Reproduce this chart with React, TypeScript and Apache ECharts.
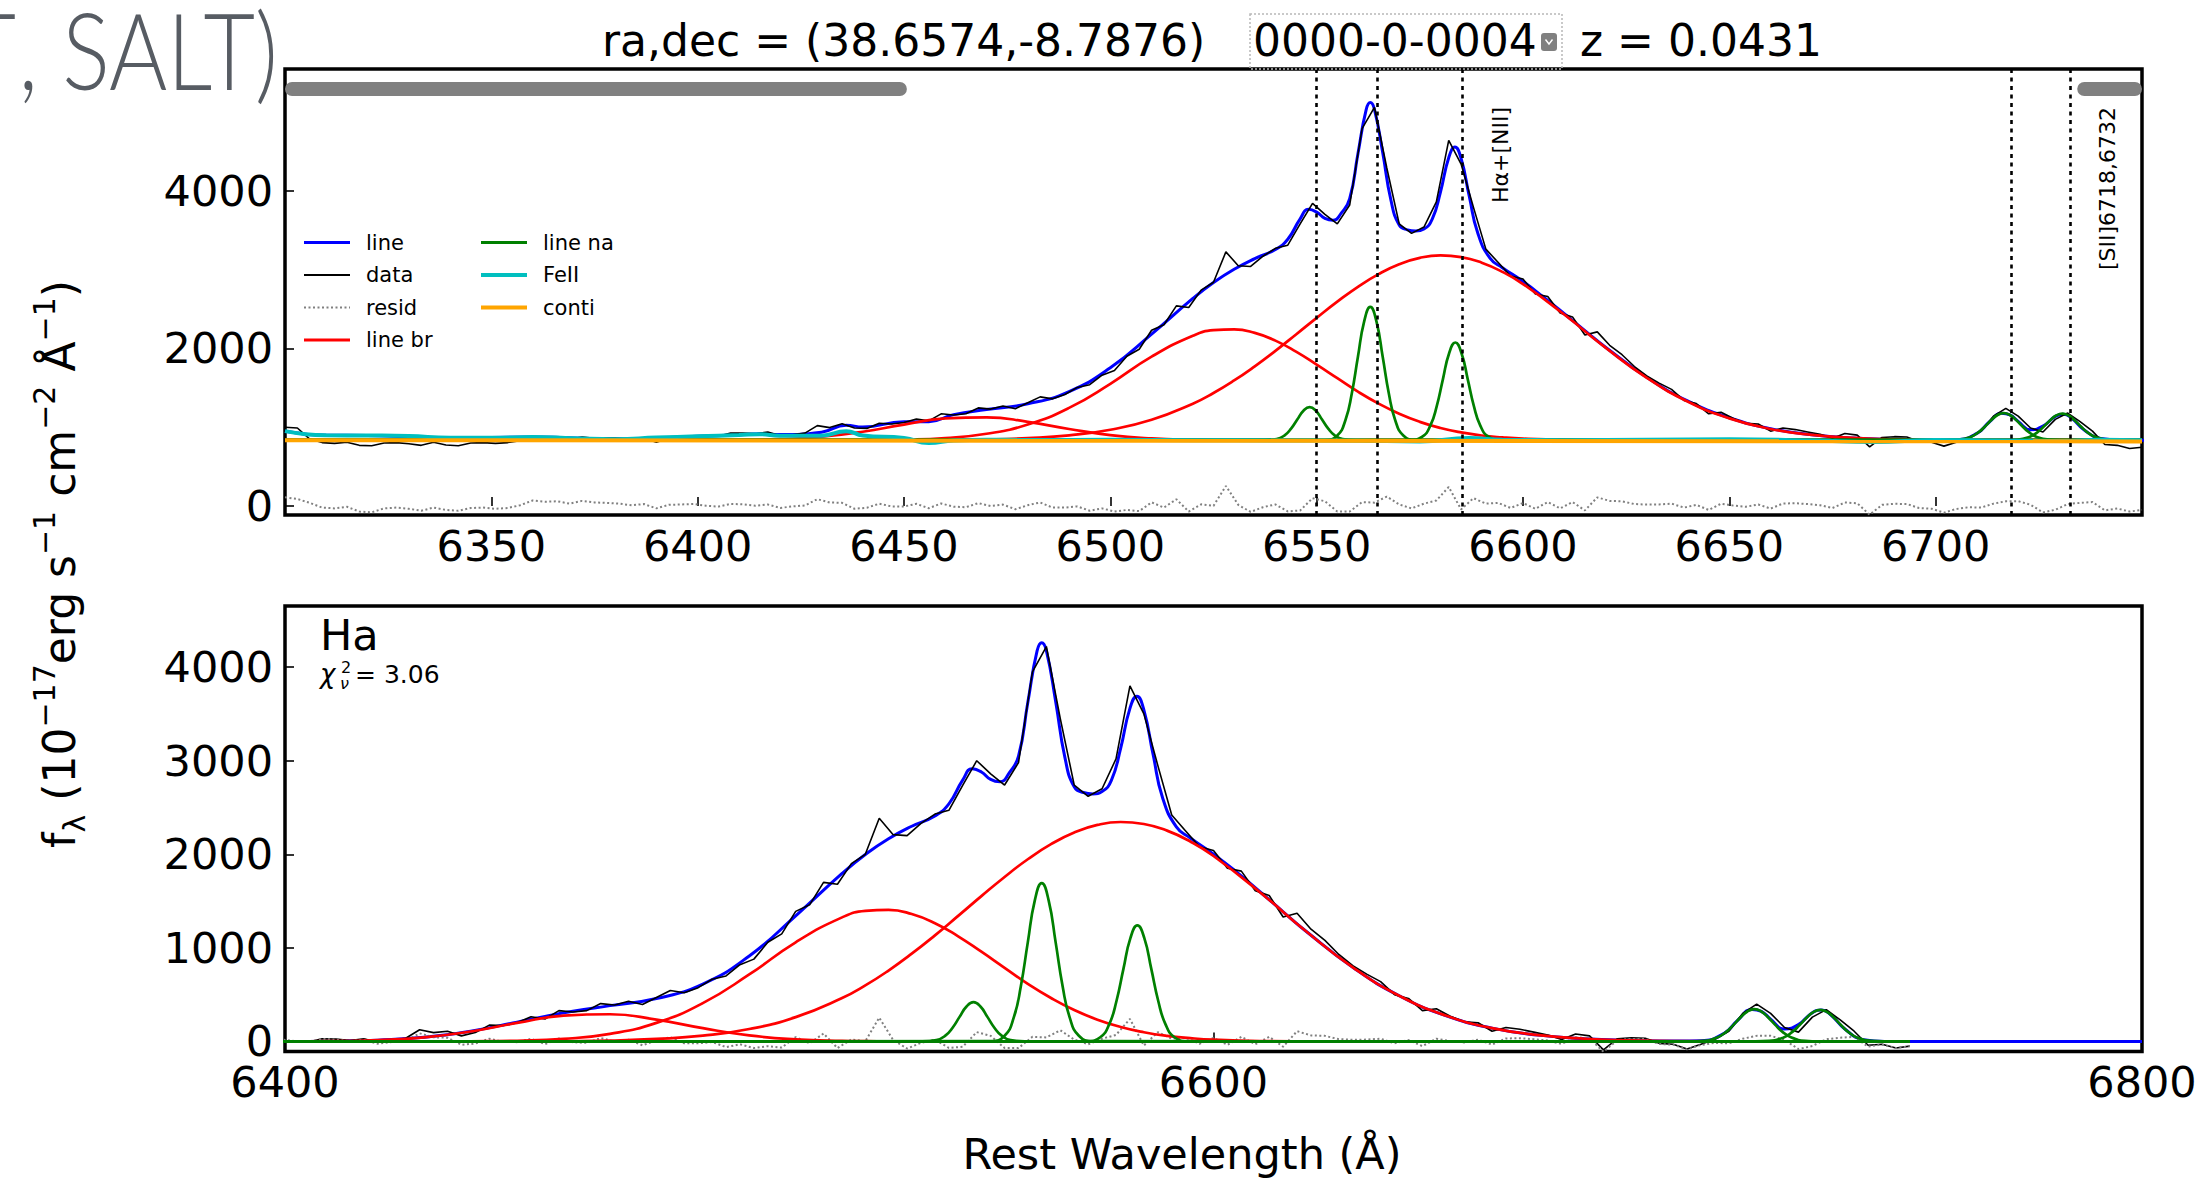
import React, { useEffect, useRef } from "react";
import * as echarts from "echarts";

const FONT = '"DejaVu Sans", "Liberation Sans", sans-serif';
const C = {
  line: "#0000ff",
  data: "#000000",
  resid: "#808080",
  br: "#ff0000",
  na: "#008000",
  fe: "#00bfbf",
  conti: "#ffa500",
  mask: "#808080",
};

// ---------------- axes / ticks ----------------
const topXTicks = [6350, 6400, 6450, 6500, 6550, 6600, 6650, 6700];
const botXTicks = [6400, 6600, 6800];
const topYTicks = [0, 2000, 4000];
const botYTicks = [0, 1000, 2000, 3000, 4000];

// ---------------- total line model ----------------
const lineWave = [6300, 6310, 6320, 6340, 6360, 6380, 6400, 6410, 6415, 6420, 6430, 6436, 6440, 6450, 6456, 6462, 6470, 6480, 6490, 6500, 6510, 6520, 6525, 6530, 6535, 6540, 6543, 6546, 6548, 6550, 6552, 6554, 6556, 6558, 6560, 6562, 6563, 6564, 6566, 6568, 6570, 6572, 6574, 6576, 6578, 6580, 6582, 6583.5, 6585, 6587, 6589, 6592, 6595, 6600, 6605, 6610, 6615, 6620, 6630, 6640, 6650, 6660, 6670, 6680, 6690, 6700, 6705, 6710, 6713, 6716, 6718, 6720, 6723, 6726, 6729, 6731, 6733, 6736, 6740, 6745, 6750, 6800];
const lineTop = [950, 898, 895, 866, 875, 850, 886, 903, 917, 907, 937, 1025, 1003, 1069, 1070, 1160, 1225, 1297, 1453, 1754, 2181, 2634, 2836, 3004, 3140, 3255, 3385, 3645, 3765, 3730, 3650, 3625, 3720, 3900, 4470, 5030, 5120, 5035, 4485, 3880, 3565, 3505, 3490, 3515, 3640, 3985, 4420, 4555, 4410, 3925, 3470, 3145, 3025, 2850, 2650, 2440, 2225, 2015, 1634, 1330, 1120, 982, 905, 862, 845, 840, 843, 922, 1066, 1177, 1156, 1073, 968, 1013, 1138, 1166, 1113, 965, 858, 838, 836, 836];
const lineBot = [0, 0, 0, 0, 0, 0, 0, 3, 7, 14, 44, 80, 109, 207, 268, 323, 383, 459, 614, 914, 1343, 1796, 1998, 2166, 2300, 2410, 2539, 2796, 2914, 2880, 2800, 2775, 2870, 3050, 3622, 4174, 4261, 4177, 3633, 3033, 2720, 2660, 2645, 2670, 2790, 3132, 3559, 3689, 3543, 3063, 2610, 2293, 2174, 2002, 1809, 1600, 1386, 1175, 792, 489, 277, 143, 68, 29, 12, 4, 7, 88, 232, 343, 322, 239, 134, 181, 308, 336, 283, 134, 20, 1, 0, 0];

// ---------------- broad components ----------------
const brWave = [6300, 6400, 6410, 6420, 6430, 6440, 6450, 6460, 6470, 6480, 6490, 6500, 6510, 6520, 6525, 6530, 6535, 6540, 6545, 6550, 6555, 6560, 6565, 6570, 6575, 6580, 6585, 6590, 6595, 6600, 6610, 6620, 6630, 6640, 6650, 6660, 6670, 6680, 6690, 6700, 6720, 6750];
const br1Bot = [0, 1, 3, 14, 44, 107, 198, 276, 291, 233, 142, 65, 23, 6, 3, 1, 0, 0, 0, 0, 0, 0, 0, 0, 0, 0, 0, 0, 0, 0, 0, 0, 0, 0, 0, 0, 0, 0, 0, 0, 0, 0];
const br1Top = [835, 836, 838, 849, 879, 942, 1033, 1111, 1126, 1068, 977, 900, 858, 841, 838, 836, 835, 835, 835, 835, 835, 835, 835, 835, 835, 835, 835, 835, 835, 835, 835, 835, 835, 835, 835, 835, 835, 835, 835, 835, 835, 835];
const br2Bot = [0, 0, 0, 0, 0, 2, 8, 28, 82, 199, 410, 716, 1060, 1326, 1396, 1407, 1362, 1264, 1124, 959, 787, 616, 465, 336, 233, 155, 99, 60, 36, 20, 5, 1, 0, 0, 0, 0, 0, 0, 0, 0, 0, 0];
const br2Top = [835, 835, 835, 835, 835, 837, 843, 863, 917, 1034, 1245, 1551, 1895, 2161, 2231, 2242, 2197, 2099, 1959, 1794, 1622, 1451, 1300, 1171, 1068, 990, 934, 895, 871, 855, 840, 836, 835, 835, 835, 835, 835, 835, 835, 835, 835, 835];
const br3Bot = [0, 0, 0, 0, 0, 0, 1, 4, 10, 27, 62, 133, 260, 464, 599, 758, 938, 1134, 1342, 1553, 1758, 1947, 2108, 2233, 2314, 2345, 2324, 2253, 2137, 1982, 1595, 1175, 792, 489, 277, 143, 68, 29, 12, 4, 0, 0];
const br3Top = [835, 835, 835, 835, 835, 835, 836, 839, 845, 862, 897, 968, 1095, 1299, 1434, 1593, 1773, 1969, 2177, 2388, 2593, 2782, 2943, 3068, 3149, 3180, 3159, 3088, 2972, 2817, 2430, 2010, 1627, 1324, 1112, 978, 903, 864, 847, 839, 835, 835];

// ---------------- narrow components ----------------
const naN2aWave = [6300, 6537.3, 6540.3, 6542.3, 6543.8, 6545.3, 6546.8, 6548.3, 6549.8, 6551.3, 6552.8, 6554.3, 6556.3, 6559.3, 6750];
const naN2aBot = [0, 1, 15, 65, 147, 263, 374, 420, 374, 263, 147, 65, 15, 1, 0];
const naN2aTop = [835, 836, 850, 900, 982, 1098, 1209, 1255, 1209, 1098, 982, 900, 850, 836, 835];
const naHaWave = [6300, 6552, 6555, 6557, 6558.5, 6560, 6561.5, 6563, 6564.5, 6566, 6567.5, 6569, 6571, 6574, 6750];
const naHaBot = [0, 3, 61, 260, 590, 1059, 1505, 1691, 1505, 1059, 590, 260, 61, 3, 0];
const naHaTop = [835, 838, 896, 1095, 1425, 1894, 2340, 2526, 2340, 1894, 1425, 1095, 896, 838, 835];
const naN2bWave = [6300, 6572.6, 6575.6, 6577.6, 6579.1, 6580.6, 6582.1, 6583.6, 6585.1, 6586.6, 6588.1, 6589.6, 6591.6, 6594.6, 6750];
const naN2bBot = [0, 2, 45, 191, 433, 776, 1104, 1240, 1104, 776, 433, 191, 45, 2, 0];
const naN2bTop = [835, 837, 880, 1026, 1268, 1611, 1939, 2075, 1939, 1611, 1268, 1026, 880, 837, 835];
const naS2aWave = [6300, 6702.5, 6705.5, 6708.5, 6710.5, 6712, 6713.5, 6715, 6716.5, 6718, 6719.5, 6721, 6722.5, 6724.5, 6727.5, 6730.5, 6750];
const naS2aBot = [0, 1, 7, 42, 106, 177, 257, 320, 345, 320, 257, 177, 106, 42, 7, 1, 0];
const naS2aTop = [835, 836, 842, 877, 941, 1012, 1092, 1155, 1180, 1155, 1092, 1012, 941, 877, 842, 836, 835];
const naS2bWave = [6300, 6716.7, 6719.7, 6722.7, 6724.7, 6726.2, 6727.7, 6729.2, 6730.7, 6732.2, 6733.7, 6735.2, 6736.7, 6738.7, 6741.7, 6744.7, 6750];
const naS2bBot = [0, 1, 6, 41, 103, 173, 251, 313, 337, 313, 251, 173, 103, 41, 6, 1, 0];
const naS2bTop = [835, 836, 841, 876, 938, 1008, 1086, 1148, 1172, 1148, 1086, 1008, 938, 876, 841, 836, 835];

// ---------------- FeII + continuum ----------------
const feWave = [6300, 6305, 6310, 6320, 6330, 6340, 6350, 6360, 6370, 6380, 6390, 6400, 6410, 6415, 6420, 6430, 6436, 6440, 6450, 6456, 6462, 6470, 6480, 6500, 6520, 6540, 6560, 6575, 6587, 6595, 6610, 6630, 6650, 6670, 6685, 6700, 6715, 6730, 6740, 6750];
const feTop = [950, 912, 898, 895, 888, 866, 866, 875, 860, 848, 868, 885, 900, 912, 893, 893, 950, 895, 862, 800, 832, 842, 838, 840, 835, 832, 828, 820, 862, 840, 836, 842, 846, 832, 812, 838, 832, 826, 840, 836];
const contiWave = [6300, 6750];
const contiTop = [836, 820];

// ---------------- observed data & residual ----------------
const dataWave = [6300, 6303, 6306, 6309, 6312, 6315, 6318, 6321, 6324, 6327, 6330, 6333, 6336, 6339, 6342, 6345, 6348, 6351, 6354, 6357, 6360, 6363, 6366, 6369, 6372, 6375, 6378, 6381, 6384, 6387, 6390, 6393, 6396, 6399, 6402, 6405, 6408, 6411, 6414, 6417, 6420, 6423, 6426, 6429, 6432, 6435, 6438, 6441, 6444, 6447, 6450, 6453, 6456, 6459, 6462, 6465, 6468, 6471, 6474, 6477, 6480, 6483, 6486, 6489, 6492, 6495, 6498, 6501, 6504, 6507, 6510, 6513, 6516, 6519, 6522, 6525, 6528, 6531, 6534, 6537, 6540, 6543, 6546, 6549, 6552, 6555, 6558, 6561, 6564, 6567, 6570, 6573, 6576, 6579, 6582, 6585, 6588, 6591, 6594, 6597, 6600, 6603, 6606, 6609, 6612, 6615, 6618, 6621, 6624, 6627, 6630, 6633, 6636, 6639, 6642, 6645, 6648, 6651, 6654, 6657, 6660, 6663, 6666, 6669, 6672, 6675, 6678, 6681, 6684, 6687, 6690, 6693, 6696, 6699, 6702, 6705, 6708, 6711, 6714, 6717, 6720, 6723, 6726, 6729, 6732, 6735, 6738, 6741, 6744, 6747, 6750];
const dataTop = [1000, 990, 850, 805, 795, 810, 770, 765, 800, 805, 790, 770, 810, 775, 765, 800, 805, 795, 805, 830, 880, 865, 870, 850, 875, 860, 865, 860, 845, 860, 810, 860, 865, 870, 890, 885, 925, 925, 915, 940, 890, 905, 925, 1020, 995, 1045, 990, 985, 1050, 1040, 1060, 1105, 1080, 1170, 1155, 1170, 1245, 1230, 1270, 1235, 1310, 1385, 1360, 1415, 1505, 1540, 1660, 1720, 1900, 1990, 2230, 2300, 2540, 2520, 2740, 2840, 3225, 3050, 3040, 3170, 3270, 3310, 3580, 3840, 3700, 3580, 3820, 4790, 5060, 4290, 3580, 3460, 3540, 3860, 4640, 4340, 3790, 3260, 3090, 2920, 2880, 2690, 2660, 2450, 2400, 2170, 2210, 2040, 1920, 1770, 1650, 1560, 1480, 1340, 1300, 1170, 1190, 1110, 1050, 1040, 950, 990, 970, 940, 910, 860, 920, 900, 750, 870, 880, 875, 820, 810, 760, 810, 865, 950, 1140, 1240, 1140, 990, 940, 1100, 1180, 1070, 950, 780, 770, 730, 745];
const dataBot = [null, null, null, null, null, null, null, null, null, null, null, null, null, null, null, null, null, null, null, null, null, null, null, null, null, null, null, null, null, null, null, null, null, null, 5, -5, 30, 25, 10, 30, -10, 15, 35, 125, 95, 110, 60, 95, 175, 170, 200, 265, 240, 330, 315, 330, 405, 390, 430, 395, 470, 545, 520, 575, 665, 700, 820, 880, 1060, 1150, 1390, 1460, 1700, 1680, 1900, 2000, 2385, 2210, 2200, 2330, 2430, 2470, 2740, 3000, 2860, 2740, 2980, 3950, 4220, 3450, 2740, 2620, 2700, 3020, 3800, 3500, 2950, 2420, 2250, 2080, 2040, 1850, 1820, 1610, 1560, 1330, 1370, 1200, 1080, 930, 810, 720, 640, 500, 460, 330, 350, 270, 210, 200, 110, 150, 130, 100, 70, 20, 80, 60, -90, 30, 40, 35, -20, -30, -80, -30, 25, 110, 300, 400, 300, 150, 100, 260, 340, 230, 110, -40, -30, -70, -50];
const residVals = [110, 90, 40, -20, -30, -10, -70, -80, -30, -20, -35, -60, -20, -50, -60, -25, -20, -35, -25, 10, 70, 55, 60, 30, 65, 45, 40, 30, 10, 25, -30, 15, 20, 25, 4, -7, 27, 21, 3, 19, -24, -5, 7, 87, 45, 40, -35, -22, 30, -5, -7, 28, -28, 32, -8, -15, 37, 0, 18, -41, 11, 45, -20, -20, -5, -60, -30, -70, -50, -65, 47, -20, 85, -70, 22, 2, 255, 15, -75, -15, 20, -69, -56, 100, 60, -70, -70, 50, 43, 120, 20, -30, 30, 70, 241, -43, 100, 30, 40, -25, 38, -35, 50, -30, 50, -56, 110, 65, 60, 25, 18, 20, 30, -20, 15, -50, 30, 5, -10, 20, -33, 32, 35, 25, 10, -26, 45, 35, -110, 15, 28, 26, -26, -34, -84, -37, -15, -20, 30, 60, 61, 16, -81, -48, 25, 40, 50, -55, -32, -70, -50];

// ---------------- line markers / masks ----------------
const lineCenters = [6549.85, 6564.61, 6585.28, 6718.29, 6732.67];
const maskSpans = [
  [6301.7, 6449],
  [6736, 6748.3],
];
const maskLevel = 5292;

const legendNames = ["line", "data", "resid", "line br", "line na", "FeII", "conti"];

// ---------------- helpers ----------------
const mk = (xs: number[], ys: (number | null)[]) => xs.map((x, i) => [x, ys[i]]);

function S(name: string, ax: number, data: any[], color: string, width: number, smooth: boolean, dash?: any, extra: any = {}) {
  return {
    type: "line",
    name,
    xAxisIndex: ax,
    yAxisIndex: ax,
    data,
    showSymbol: false,
    symbol: "none",
    silent: true,
    animation: false,
    clip: true,
    smooth,
    lineStyle: { color, width, type: dash || "solid", cap: extra.cap || "butt" },
    itemStyle: { color },
    ...(extra.markLine ? { markLine: extra.markLine } : {}),
  };
}

function xAxisCfg(grid: number, min: number, max: number, ticks: number[]) {
  return {
    gridIndex: grid,
    type: "value",
    min,
    max,
    axisLine: { show: false },
    splitLine: { show: false },
    axisTick: { show: true, inside: true, length: 9, lineStyle: { color: "#000", width: 1.6 }, customValues: ticks },
    axisLabel: {
      show: true,
      customValues: ticks,
      fontSize: 43,
      fontFamily: FONT,
      color: "#000",
      margin: 9,
      showMinLabel: true,
      showMaxLabel: true,
      formatter: (v: number) => String(v),
    },
  };
}
function yAxisCfg(grid: number, min: number, max: number, ticks: number[]) {
  return {
    gridIndex: grid,
    type: "value",
    min,
    max,
    axisLine: { show: false },
    splitLine: { show: false },
    axisTick: { show: true, inside: true, length: 9, lineStyle: { color: "#000", width: 1.6 }, customValues: ticks },
    axisLabel: {
      show: true,
      customValues: ticks,
      fontSize: 43,
      fontFamily: FONT,
      color: "#000",
      margin: 12,
      showMinLabel: true,
      showMaxLabel: true,
      formatter: (v: number) => String(v),
    },
  };
}

function txt(text: string, x: number, y: number, size: number, opts: any = {}) {
  const align = opts.align || "left";
  const va = opts.va || "middle";
  return {
    type: "text",
    x,
    y,
    z: 100,
    rotation: opts.rotation || 0,
    scaleX: opts.scaleX || 1,
    silent: true,
    style: {
      text,
      fontSize: size,
      fontFamily: opts.family || FONT,
      fontWeight: opts.weight || "normal",
      fontStyle: opts.style || "normal",
      fill: opts.color || "#000",
      align,
      textAlign: align,
      verticalAlign: va,
      textVerticalAlign: va,
      rich: opts.rich,
    },
  };
}

function buildOption() {
  const vline = {
    silent: true,
    symbol: ["none", "none"],
    label: { show: false },
    animation: false,
    lineStyle: { color: "#000", width: 2.6, type: [4, 4.5] },
    data: lineCenters.map((v) => ({ xAxis: v })),
  };

  const series: any[] = [
    // top panel
    S("line", 0, mk(lineWave, lineTop), C.line, 3, true),
    S("data", 0, mk(dataWave, dataTop), C.data, 1.6, false),
    S("resid", 0, mk(dataWave, residVals), C.resid, 2, false, [2, 2.5]),
    S("line br", 0, mk(brWave, br1Top), C.br, 2.7, true),
    S("line br", 0, mk(brWave, br2Top), C.br, 2.7, true),
    S("line br", 0, mk(brWave, br3Top), C.br, 2.7, true),
    S("line na", 0, mk(naN2aWave, naN2aTop), C.na, 2.7, true),
    S("line na", 0, mk(naHaWave, naHaTop), C.na, 2.7, true),
    S("line na", 0, mk(naN2bWave, naN2bTop), C.na, 2.7, true),
    S("line na", 0, mk(naS2aWave, naS2aTop), C.na, 2.7, true),
    S("line na", 0, mk(naS2bWave, naS2bTop), C.na, 2.7, true),
    S("FeII", 0, mk(feWave, feTop), C.fe, 4, true),
    S("conti", 0, mk(contiWave, contiTop), C.conti, 4, false, undefined, { markLine: vline }),
    S("mask", 0, mk(maskSpans[0], [maskLevel, maskLevel]), C.mask, 14, false, undefined, { cap: "round" }),
    S("mask", 0, mk(maskSpans[1], [maskLevel, maskLevel]), C.mask, 14, false, undefined, { cap: "round" }),
    // bottom panel
    S("line", 1, mk(lineWave, lineBot), C.line, 3, true),
    S("data", 1, mk(dataWave, dataBot), C.data, 1.6, false),
    S("resid", 1, mk(dataWave, residVals), C.resid, 2, false, [2, 2.5]),
    S("line br", 1, mk(brWave, br1Bot), C.br, 2.7, true),
    S("line br", 1, mk(brWave, br2Bot), C.br, 2.7, true),
    S("line br", 1, mk(brWave, br3Bot), C.br, 2.7, true),
    S("line na", 1, mk(naN2aWave, naN2aBot), C.na, 2.7, true),
    S("line na", 1, mk(naHaWave, naHaBot), C.na, 2.7, true),
    S("line na", 1, mk(naN2bWave, naN2bBot), C.na, 2.7, true),
    S("line na", 1, mk(naS2aWave, naS2aBot), C.na, 2.7, true),
    S("line na", 1, mk(naS2bWave, naS2bBot), C.na, 2.7, true),
  ];

  // legend (drawn as graphic, matplotlib style, no frame)
  const legendStyle: Record<string, any> = {
    line: { c: C.line, w: 3 },
    data: { c: C.data, w: 1.8 },
    resid: { c: C.resid, w: 1.8, dash: [2, 2.5] },
    "line br": { c: C.br, w: 3 },
    "line na": { c: C.na, w: 3 },
    FeII: { c: C.fe, w: 4 },
    conti: { c: C.conti, w: 4 },
  };
  const rowsY = [242.5, 275, 307.5, 340];
  const graphic: any[] = [];
  legendNames.forEach((n, i) => {
    const col = i < 4 ? 0 : 1;
    const row = i < 4 ? i : i - 4;
    const x0 = col === 0 ? 304 : 481;
    const y = rowsY[row];
    const st = legendStyle[n];
    graphic.push({
      type: "line",
      z: 100,
      silent: true,
      shape: { x1: x0, y1: y, x2: x0 + 46, y2: y },
      style: { stroke: st.c, lineWidth: st.w, lineDash: st.dash || null },
    });
    graphic.push(txt(n, x0 + 62, y, 21));
  });

  // page heading (partially cut) and title row
  const headFont = "Lato, 'Open Sans', sans-serif";
  graphic.push(txt("T", 16, 49, 106, { align: "right", family: headFont, weight: 300, color: "#575c63", scaleX: 0.84 }));
  graphic.push(txt(", SALT)", 278, 49, 106, { align: "right", family: headFont, weight: 300, color: "#575c63", scaleX: 0.84 }));
  graphic.push(txt("ra,dec = (38.6574,-8.7876)", 602, 40, 44));
  graphic.push({
    type: "rect",
    z: 100,
    silent: true,
    shape: { x: 1250, y: 14, width: 312, height: 55 },
    style: { fill: "none", stroke: "#b8b8b8", lineWidth: 1.5, lineDash: [2, 2] },
  });
  graphic.push(txt("0000-0-0004", 1253, 40, 44));
  graphic.push({
    type: "rect",
    z: 100,
    silent: true,
    shape: { x: 1541, y: 33, width: 16, height: 18, r: 3 },
    style: { fill: "#808080" },
  });
  graphic.push({
    type: "polyline",
    z: 101,
    silent: true,
    shape: { points: [[1545.5, 39.5], [1549, 44], [1552.5, 39.5]] },
    style: { stroke: "#ffffff", lineWidth: 1.4, fill: "none" },
  });
  graphic.push(txt("z = 0.0431", 1580, 40, 44));

  // line annotations (rotated)
  graphic.push(txt("Hα+[NII]", 1500, 107, 22, { align: "right", rotation: Math.PI / 2 }));
  graphic.push(txt("[SII]6718,6732", 2107, 107, 22, { align: "right", rotation: Math.PI / 2 }));

  // bottom panel labels
  graphic.push(txt("Ha", 320, 634.5, 43));
  graphic.push(txt("χ", 320, 674, 26, { style: "italic" }));
  graphic.push(txt("2", 341, 667, 16));
  graphic.push(txt("ν", 340, 683, 16, { style: "italic" }));
  graphic.push(txt("= 3.06", 355, 674, 25));

  // axis titles
  graphic.push(txt("Rest Wavelength (Å)", 1182, 1154, 43, { align: "center" }));
  graphic.push(
    txt("{t|f}{sb|λ}{t| (10}{sp|−17}{t|erg s}{sp|−1}{t| cm}{sp|−2}{t| Å}{sp|−1}{t|)}", 59, 564, 44, {
      align: "center",
      rotation: Math.PI / 2,
      rich: {
        t: { fontSize: 44, fontFamily: FONT, fill: "#000", lineHeight: 60 },
        sp: { fontSize: 30, fontFamily: FONT, fill: "#000", verticalAlign: "top", lineHeight: 30 },
        sb: { fontSize: 30, fontFamily: FONT, fill: "#000", verticalAlign: "bottom", lineHeight: 30 },
      },
    })
  );

  return {
    animation: false,
    backgroundColor: "#ffffff",
    textStyle: { fontFamily: FONT },
    grid: [
      { left: 285, top: 69, width: 1857, height: 446, show: true, borderColor: "#000", borderWidth: 3.5, backgroundColor: "transparent" },
      { left: 285, top: 606, width: 1857, height: 445.5, show: true, borderColor: "#000", borderWidth: 3.5, backgroundColor: "transparent" },
    ],
    xAxis: [xAxisCfg(0, 6300, 6750, topXTicks), xAxisCfg(1, 6400, 6800, botXTicks)],
    yAxis: [yAxisCfg(0, -114, 5546, topYTicks), yAxisCfg(1, -107, 4653, botYTicks)],
    series,
    graphic,
  };
}

export default function App() {
  const ref = useRef<HTMLDivElement>(null);
  useEffect(() => {
    const el = ref.current;
    if (!el) return;
    const chart = echarts.init(el, undefined, { renderer: "svg" });
    chart.setOption(buildOption() as any);
    return () => chart.dispose();
  }, []);
  return (
    <div
      ref={ref}
      style={{ position: "fixed", left: 0, top: 0, width: "2212px", height: "1178px", background: "#ffffff" }}
    />
  );
}
